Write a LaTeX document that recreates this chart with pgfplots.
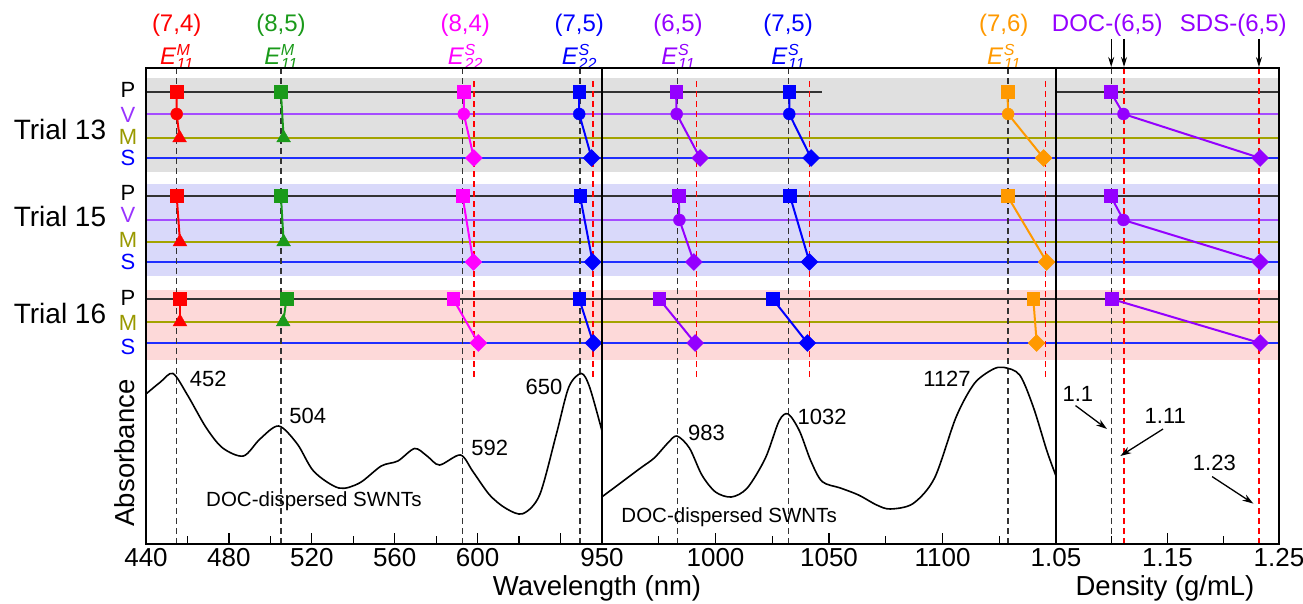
\documentclass[border=0pt]{standalone}
\usepackage{fontspec}
\setmainfont{Liberation Sans}
\usepackage{pgfplots}
\pgfplotsset{compat=1.18}
\usetikzlibrary{arrows.meta}

\definecolor{bgGray}{HTML}{E0E0E0}
\definecolor{bgBlue}{HTML}{D9D9FA}
\definecolor{bgRed}{HTML}{FDD9D9}
\definecolor{lnP}{HTML}{333333}
\definecolor{lnV}{HTML}{A54CFF}
\definecolor{lnM}{HTML}{A3A300}
\definecolor{lnS}{HTML}{1F2EFF}
\definecolor{cRed}{HTML}{FF0000}
\definecolor{cGreen}{HTML}{1A9A1A}
\definecolor{cMag}{HTML}{FF00FF}
\definecolor{cBlue}{HTML}{0000FF}
\definecolor{cPur}{HTML}{9400FF}
\definecolor{cOra}{HTML}{FF9900}
\definecolor{lblV}{HTML}{9933FF}
\definecolor{lblM}{HTML}{999900}

\newcommand\fs[1]{\fontsize{#1}{#1}\selectfont}

\pgfplotsset{
  panel/.style={scale only axis, height=476pt, ymin=0, ymax=476, ytick=\empty,
    axis line style={line width=2pt}, tick align=inside, xtick pos=bottom,
    major tick length=11pt, minor tick length=8pt,
    tick style={black, line width=1.3pt},
    xticklabel style={font=\fs{26}, inner sep=0pt, yshift=-4pt},
    clip=false, axis on top, anchor=south west},
  mP/.style={only marks, mark=square*, mark size=6.3pt},
  mV/.style={only marks, mark=*, mark size=6pt},
  mM/.style={only marks, mark=triangle*, mark size=8pt},
  mS/.style={only marks, mark=square*, mark size=6pt, mark options={rotate=45}},
  cl/.style={line width=2pt, mark=none},
  bd/.style={lnP, line width=1.4pt, dash pattern=on 6pt off 4pt, mark=none},
  rd/.style={red, line width=1.5pt, dash pattern=on 6pt off 4pt, mark=none},
  hl/.style={line width=1.4pt, mark=none},
}
\tikzset{
  top/.style={font=\fs{24}, inner sep=1pt},
  elb/.style={font=\fs{24}, inner sep=1pt},
}

% shaded trial bands
\newcommand\bands[2]{%
  \addplot[draw=none, fill=bgGray] coordinates {(#1,372)(#2,372)(#2,466)(#1,466)} -- cycle;
  \addplot[draw=none, fill=bgBlue] coordinates {(#1,268)(#2,268)(#2,360)(#1,360)} -- cycle;
  \addplot[draw=none, fill=bgRed] coordinates {(#1,184)(#2,184)(#2,254)(#1,254)} -- cycle;
}
% P/V/M/S guide lines; #3 = end of the trial-13 P line
\newcommand\hlines[3]{%
  \addplot[hl, lnP] coordinates {(#1,452)(#3,452)};
  \addplot[hl, lnV] coordinates {(#1,430)(#2,430)};
  \addplot[hl, lnM] coordinates {(#1,406)(#2,406)};
  \addplot[hl, lnS] coordinates {(#1,386)(#2,386)};
  \addplot[hl, lnP] coordinates {(#1,348)(#2,348)};
  \addplot[hl, lnV] coordinates {(#1,324)(#2,324)};
  \addplot[hl, lnM] coordinates {(#1,302)(#2,302)};
  \addplot[hl, lnS] coordinates {(#1,282)(#2,282)};
  \addplot[hl, lnP] coordinates {(#1,245)(#2,245)};
  \addplot[hl, lnM] coordinates {(#1,222)(#2,222)};
  \addplot[hl, lnS] coordinates {(#1,201)(#2,201)};
}
% E with stacked small super/subscript
\newcommand\elab[2]{\textit{E}\kern0.5pt\rlap{\raisebox{8.5pt}{\fs{16}\textit{#1}}}\raisebox{-5pt}{\fs{16}\textit{#2}}}

\begin{document}
\begin{tikzpicture}
\useasboundingbox (0pt,0pt) rectangle (1303pt,604pt);

%% ---------------- panel 1: 440-660 nm ----------------
\begin{axis}[panel, at={(146pt,60pt)}, width=456pt, xmin=440, xmax=660,
  xtick={440,480,520,560,600,640}, xticklabels={440,480,520,560,600,{}},
  minor xtick={460,500,540,580,620}]
  \bands{440}{660}
  \hlines{440}{660}{660}
  \addplot[bd] coordinates {(454.8,0)(454.8,476)};
  \addplot[bd] coordinates {(505.1,0)(505.1,476)};
  \addplot[bd] coordinates {(592.8,0)(592.8,476)};
  \addplot[bd] coordinates {(649.4,0)(649.4,476)};
  \addplot[rd] coordinates {(598.2,167)(598.2,466)};
  \addplot[rd] coordinates {(655.7,167)(655.7,466)};
  % absorbance spectrum
  \addplot[black, line width=1.6pt, smooth, mark=none] coordinates {
    (440,150)(447,162)(453,170.5)(460,149)(469,116.4)(477,96)(487,88)(495,105)
    (504,118)(513,100)(521,72.5)(533,56)(543,61)(553.5,78)(561.5,83)(569.6,95.5)
    (575.6,88)(581.6,79)(591.7,89)(597.7,72.5)(605.8,49)(613.8,35.4)(621.8,30.3)
    (629.9,49)(638,110)(644,157)(650,170.5)(654,157)(660,113)};
  % (7,4) red
  \addplot[cRed, cl] coordinates {(454.8,452)(454.8,430)(456.2,406)};
  \addplot[cRed, cl] coordinates {(454.8,348)(456.4,302)};
  \addplot[cRed, cl] coordinates {(456.4,245)(456.4,222)};
  \addplot[cRed, mP] coordinates {(454.8,452)(454.8,348)(456.4,245)};
  \addplot[cRed, mV] coordinates {(454.8,430)};
  \addplot[cRed, mM] coordinates {(456.2,406)(456.4,302)(456.4,222)};
  % (8,5) green
  \addplot[cGreen, cl] coordinates {(505.1,452)(506.4,406)};
  \addplot[cGreen, cl] coordinates {(505.1,348)(506.4,302)};
  \addplot[cGreen, cl] coordinates {(507.8,245)(506.2,222)};
  \addplot[cGreen, mP] coordinates {(505.1,452)(505.1,348)(507.8,245)};
  \addplot[cGreen, mM] coordinates {(506.4,406)(506.4,302)(506.2,222)};
  % (8,4) magenta
  \addplot[cMag, cl] coordinates {(593.3,452)(593.3,430)(598.2,386)};
  \addplot[cMag, cl] coordinates {(592.7,348)(597.9,282)};
  \addplot[cMag, cl] coordinates {(588.2,245)(600.3,201)};
  \addplot[cMag, mP] coordinates {(593.3,452)(592.7,348)(588.2,245)};
  \addplot[cMag, mV] coordinates {(593.3,430)};
  \addplot[cMag, mS] coordinates {(598.2,386)(597.9,282)(600.3,201)};
  % (7,5) E22 blue
  \addplot[cBlue, cl] coordinates {(649,452)(649,430)(655,386)};
  \addplot[cBlue, cl] coordinates {(649.4,348)(655.5,282)};
  \addplot[cBlue, cl] coordinates {(649,245)(655.8,201)};
  \addplot[cBlue, mP] coordinates {(649,452)(649.4,348)(649,245)};
  \addplot[cBlue, mV] coordinates {(649,430)};
  \addplot[cBlue, mS] coordinates {(655,386)(655.5,282)(655.8,201)};
  % labels
  \node[font=\fs{22}] at (axis cs:470,165.4) {452};
  \node[font=\fs{22}] at (axis cs:518,128) {504};
  \node[font=\fs{22}] at (axis cs:605.8,96) {592};
  \node[font=\fs{22}] at (axis cs:632,157) {650};
  \node[font=\fs{20.5}] at (axis cs:521,43) {DOC-dispersed SWNTs};
  \node[cRed, top] at (axis cs:454.8,519) {(7,4)};
  \node[cRed, elb] at (axis cs:454.8,487) {\elab{M}{11}};
  \node[cGreen, top] at (axis cs:505.1,519) {(8,5)};
  \node[cGreen, elb] at (axis cs:505.1,487) {\elab{M}{11}};
  \node[cMag, top] at (axis cs:594,519) {(8,4)};
  \node[cMag, elb] at (axis cs:594,487) {\elab{S}{22}};
  \node[cBlue, top] at (axis cs:649,519) {(7,5)};
  \node[cBlue, elb] at (axis cs:649,487) {\elab{S}{22}};
\end{axis}

%% ---------------- panel 2: 950-1150 nm ----------------
\begin{axis}[panel, at={(602pt,60pt)}, width=454pt, xmin=950, xmax=1150,
  xtick={950,1000,1050,1100,1150}, xticklabels={950,1000,1050,1100,{}},
  minor xtick={975,1025,1075,1125}]
  \bands{950}{1150}
  \hlines{950}{1150}{1047}
  \addplot[bd] coordinates {(983.2,0)(983.2,476)};
  \addplot[bd] coordinates {(1032.1,0)(1032.1,476)};
  \addplot[bd] coordinates {(1128.9,0)(1128.9,476)};
  \addplot[rd] coordinates {(991.7,167)(991.7,466)};
  \addplot[rd] coordinates {(1041.4,167)(1041.4,466)};
  \addplot[rd] coordinates {(1145.4,167)(1145.4,466)};
  \addplot[black, line width=1.6pt, smooth, mark=none] coordinates {
    (950,47.2)(957,59)(967,76)(973,86)(979,101)(983,108)(988.5,96)(994,69)
    (1000,52)(1007,47)(1014,56)(1022,86)(1028,123)(1032,130)(1037,113)(1042,83)
    (1047,62.4)(1055,56)(1063,49)(1071,39)(1077,35)(1087,40.4)(1096.5,66)
    (1106,127)(1114,160.4)(1122,174.5)(1127,176.6)(1134,169)(1140,137)
    (1146,93)(1150,68)};
  % (6,5) purple
  \addplot[cPur, cl] coordinates {(982.6,452)(982.9,430)(993.2,386)};
  \addplot[cPur, cl] coordinates {(983.8,348)(984.1,324)(990.5,282)};
  \addplot[cPur, cl] coordinates {(975.2,245)(991,201)};
  \addplot[cPur, mP] coordinates {(982.6,452)(983.8,348)(975.2,245)};
  \addplot[cPur, mV] coordinates {(982.9,430)(984.1,324)};
  \addplot[cPur, mS] coordinates {(993.2,386)(990.5,282)(991,201)};
  % (7,5) E11 blue
  \addplot[cBlue, cl] coordinates {(1032.5,452)(1032.5,430)(1042.1,386)};
  \addplot[cBlue, cl] coordinates {(1032.8,348)(1041.4,282)};
  \addplot[cBlue, cl] coordinates {(1025.2,245)(1040.5,201)};
  \addplot[cBlue, mP] coordinates {(1032.5,452)(1032.8,348)(1025.2,245)};
  \addplot[cBlue, mV] coordinates {(1032.5,430)};
  \addplot[cBlue, mS] coordinates {(1042.1,386)(1041.4,282)(1040.5,201)};
  % (7,6) orange
  \addplot[cOra, cl] coordinates {(1128.6,452)(1128.9,430)(1144.5,386)};
  \addplot[cOra, cl] coordinates {(1128.6,348)(1145.9,282)};
  \addplot[cOra, cl] coordinates {(1140,245)(1141.5,201)};
  \addplot[cOra, mP] coordinates {(1128.6,452)(1128.6,348)(1140,245)};
  \addplot[cOra, mV] coordinates {(1128.9,430)};
  \addplot[cOra, mS] coordinates {(1144.5,386)(1145.9,282)(1141.5,201)};
  \node[font=\fs{22}] at (axis cs:996,111) {983};
  \node[font=\fs{22}] at (axis cs:1047,127) {1032};
  \node[font=\fs{22}] at (axis cs:1102,165.4) {1127};
  \node[font=\fs{20.5}] at (axis cs:1006,27) {DOC-dispersed SWNTs};
  \node[cPur, top] at (axis cs:983.5,519) {(6,5)};
  \node[cPur, elb] at (axis cs:983.5,487) {\elab{S}{11}};
  \node[cBlue, top] at (axis cs:1032,519) {(7,5)};
  \node[cBlue, elb] at (axis cs:1032,487) {\elab{S}{11}};
  \node[cOra, top] at (axis cs:1127,519) {(7,6)};
  \node[cOra, elb] at (axis cs:1127,487) {\elab{S}{11}};
\end{axis}

%% ---------------- panel 3: density ----------------
\begin{axis}[panel, at={(1056pt,60pt)}, width=223pt, xmin=1.05, xmax=1.25,
  xtick={1.05,1.15,1.25}, xticklabels={1.05,1.15,1.25},
  minor xtick={1.1,1.2}]
  \bands{1.05}{1.25}
  \hlines{1.05}{1.25}{1.25}
  \addplot[bd] coordinates {(1.0995,0)(1.0995,476)};
  \addplot[rd] coordinates {(1.111,0)(1.111,476)};
  \addplot[rd] coordinates {(1.232,0)(1.232,476)};
  \addplot[cPur, cl] coordinates {(1.099,452)(1.1105,430)(1.233,386)};
  \addplot[cPur, cl] coordinates {(1.099,348)(1.1105,324)(1.233,282)};
  \addplot[cPur, cl] coordinates {(1.0999,245)(1.233,201)};
  \addplot[cPur, mP] coordinates {(1.099,452)(1.099,348)(1.0999,245)};
  \addplot[cPur, mV] coordinates {(1.1105,430)(1.1105,324)};
  \addplot[cPur, mS] coordinates {(1.233,386)(1.233,282)(1.233,201)};
  \node[font=\fs{22}] at (axis cs:1.0696,150) {1.1};
  \draw[-{Stealth[length=11pt,width=7pt]}, line width=1.3pt] (axis cs:1.0675,138.4) -- (axis cs:1.0957,115);
  \node[font=\fs{22}] at (axis cs:1.148,128.3) {1.11};
  \draw[-{Stealth[length=11pt,width=7pt]}, line width=1.3pt] (axis cs:1.146,115) -- (axis cs:1.1077,88);
  \node[font=\fs{22}] at (axis cs:1.192,81) {1.23};
  \draw[-{Stealth[length=11pt,width=7pt]}, line width=1.3pt] (axis cs:1.190,67.4) -- (axis cs:1.227,40.4);
  \node[cPur, top] at (axis cs:1.096,519) {DOC-(6,5)};
  \node[cPur, top] at (axis cs:1.209,519) {SDS-(6,5)};
  \draw[-{Stealth[length=10pt,width=6pt]}, line width=1.2pt] (axis cs:1.0995,505) -- (axis cs:1.0995,477);
  \draw[-{Stealth[length=10pt,width=6pt]}, line width=1.2pt] (axis cs:1.111,505) -- (axis cs:1.111,477);
  \draw[-{Stealth[length=10pt,width=6pt]}, line width=1.2pt] (axis cs:1.232,505) -- (axis cs:1.232,477);
\end{axis}

%% ---------------- outer labels ----------------
\node[font=\fs{22}] at (128pt,514pt) {P};
\node[lblV, font=\fs{22}] at (128pt,489pt) {V};
\node[lblM, font=\fs{22}] at (128pt,467pt) {M};
\node[cBlue, font=\fs{22}] at (128pt,446pt) {S};
\node[font=\fs{22}] at (128pt,411pt) {P};
\node[lblV, font=\fs{22}] at (128pt,389pt) {V};
\node[lblM, font=\fs{22}] at (128pt,364pt) {M};
\node[cBlue, font=\fs{22}] at (128pt,342pt) {S};
\node[font=\fs{22}] at (128pt,306pt) {P};
\node[lblM, font=\fs{22}] at (128pt,281pt) {M};
\node[cBlue, font=\fs{22}] at (128pt,257pt) {S};
\node[font=\fs{28}] at (60pt,474pt) {Trial 13};
\node[font=\fs{28}] at (60pt,387pt) {Trial 15};
\node[font=\fs{28}] at (60pt,291pt) {Trial 16};
\node[font=\fs{27.5}, rotate=90] at (125pt,151pt) {Absorbance};
\node[font=\fs{27.5}] at (597pt,16pt) {Wavelength (nm)};
\node[font=\fs{27.5}] at (1165pt,16pt) {Density (g/mL)};
\end{tikzpicture}
\end{document}
